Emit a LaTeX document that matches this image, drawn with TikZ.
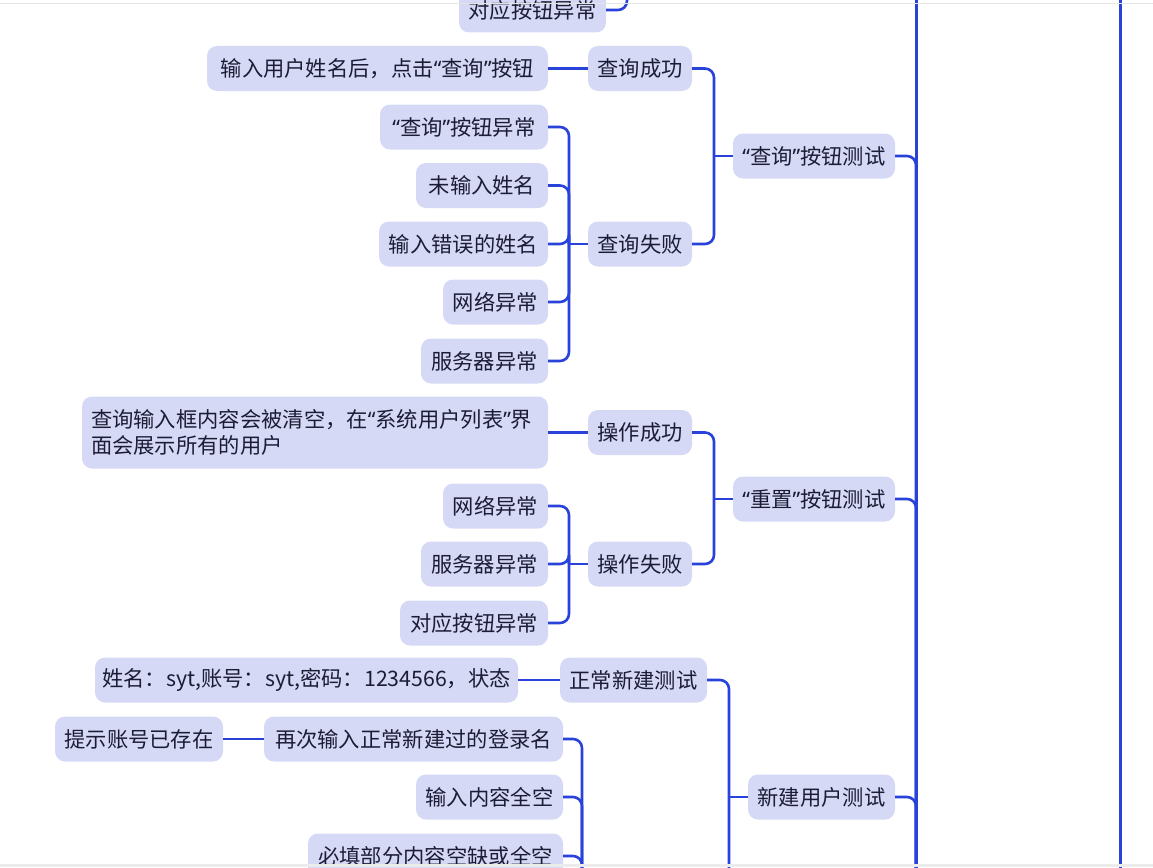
\documentclass[tikz,border=0pt]{standalone}
\usepackage{fontspec}
\setmainfont{Noto Sans CJK SC}
\newfontfamily\qfont{Noto Sans}
\newcommand{\myoq}{{\qfont “}}
\newcommand{\mycq}{{\qfont ”}}
\definecolor{boxfill}{RGB}{213,217,246}
\definecolor{linec}{RGB}{40,66,218}
\definecolor{txt}{RGB}{28,28,52}
\begin{document}
\begin{tikzpicture}[x=1pt,y=-1pt,
  box/.style={fill=boxfill, rounded corners=10pt, minimum height=45pt, inner sep=0pt, text=txt, font=\fontsize{21.3}{26}\selectfont},
  conn/.style={draw=linec, line width=2.6pt, rounded corners=9pt},
  trunk/.style={draw=linec, line width=3pt}
]
\useasboundingbox (0,0) rectangle (1153,867);
\begin{scope}
\clip (0,0) rectangle (1153,867);
% nodes
\node[box, minimum width=147pt] (a0) at (532.5,10) {对应按钮异常};
\node[box, minimum width=341pt] (q1a) at (377.5,68.5) {输入用户姓名后，点击\myoq 查询\mycq 按钮};
\node[box, minimum width=104pt] (q1) at (640,68.5) {查询成功};
\node[box, minimum width=168pt] (q2a) at (464,127) {\myoq 查询\mycq 按钮异常};
\node[box, minimum width=132pt] (q2b) at (482,185.5) {未输入姓名};
\node[box, minimum width=169pt] (q2c) at (463.5,244) {输入错误的姓名};
\node[box, minimum width=105pt] (q2d) at (495.5,302) {网络异常};
\node[box, minimum width=127pt] (q2e) at (484.5,361) {服务器异常};
\node[box, minimum width=104pt] (q2) at (640,244) {查询失败};
\node[box, minimum width=162pt] (qt) at (814,156) {\myoq 查询\mycq 按钮测试};
\node[box, minimum width=466pt, minimum height=72pt, text width=448pt, align=left] (r1a) at (315,432.5) {查询输入框内容会被清空，在\myoq 系统用户列表\mycq 界\\面会展示所有的用户};
\node[box, minimum width=104pt] (r1) at (640,432.5) {操作成功};
\node[box, minimum width=105pt] (r2a) at (495.5,506) {网络异常};
\node[box, minimum width=127pt] (r2b) at (484.5,564) {服务器异常};
\node[box, minimum width=148pt] (r2c) at (474,623) {对应按钮异常};
\node[box, minimum width=104pt] (r2) at (640,564) {操作失败};
\node[box, minimum width=162pt] (rt) at (814,499) {\myoq 重置\mycq 按钮测试};
\node[box, minimum width=423pt] (n1a) at (306.5,680) {姓名：syt,账号：syt,密码：1234566，状态};
\node[box, minimum width=147pt] (n1) at (633.5,680) {正常新建测试};
\node[box, minimum width=168pt] (n2x) at (139,739) {提示账号已存在};
\node[box, minimum width=299pt] (n2a) at (413.5,739) {再次输入正常新建过的登录名};
\node[box, minimum width=147pt] (n2b) at (489.5,797) {输入内容全空};
\node[box, minimum width=255pt] (n2c) at (435.5,856) {必填部分内容空缺或全空};
\node[box, minimum width=147pt] (nt) at (821.5,797) {新建用户测试};
% junction coordinates
\coordinate (jtop) at (627,-60);
\coordinate (jq2) at (569,244);
\coordinate (jqt) at (714,156);
\coordinate (jr2) at (569,564);
\coordinate (jrt) at (714,499);
\coordinate (jnt) at (729,797);
\coordinate (jntend) at (729,900);
\coordinate (jn2) at (582,920);
\coordinate (root) at (916,920);
\coordinate (rootA) at (916,-20);
\coordinate (sideA) at (1120,-20);
\coordinate (sideB) at (1120,920);
% connectors
\draw[conn] (a0.east) -| (jtop);
\draw[conn] (q1a.east) -- (q1.west);
\foreach \c in {q2a,q2b,q2c,q2d,q2e} \draw[conn] (\c.east) -| (jq2);
\draw[conn] (jq2) -- (q2.west);
\draw[conn] (q1.east) -| (jqt);
\draw[conn] (q2.east) -| (jqt);
\draw[conn] (jqt) -- (qt.west);
\draw[conn] (r1a.east) -- (r1.west);
\foreach \c in {r2a,r2b,r2c} \draw[conn] (\c.east) -| (jr2);
\draw[conn] (jr2) -- (r2.west);
\draw[conn] (r1.east) -| (jrt);
\draw[conn] (r2.east) -| (jrt);
\draw[conn] (jrt) -- (rt.west);
\draw[conn] (n1a.east) -- (n1.west);
\draw[conn] (n2x.east) -- (n2a.west);
\foreach \c in {n2a,n2b,n2c} \draw[conn] (\c.east) -| (jn2);
\draw[conn] (n1.east) -| (jntend);
\draw[conn] (jnt) -- (nt.west);
\draw[conn] (qt.east) -| (root);
\draw[conn] (rt.east) -| (root);
\draw[conn] (nt.east) -| (root);
\draw[trunk] (rootA) -- (root);
\draw[trunk] (sideA) -- (sideB);
% frame edges
\draw[gray!20, line width=1pt] (0,3.5) -- (1153,3.5);
\fill[gray!15] (0,864) rectangle (1153,867);
\end{scope}
\end{tikzpicture}
\end{document}
